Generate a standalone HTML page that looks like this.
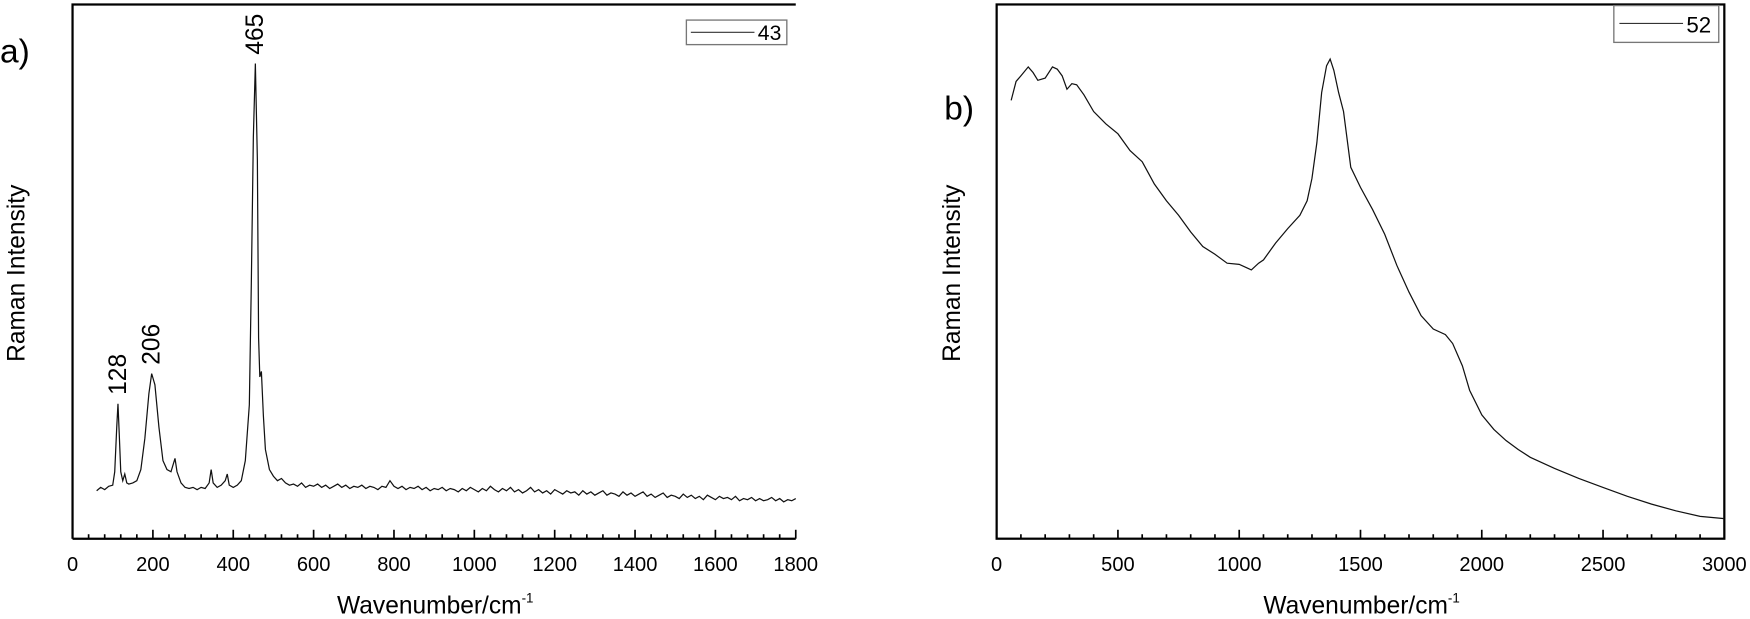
<!DOCTYPE html>
<html><head><meta charset="utf-8"><style>
html,body{margin:0;background:#fff;overflow:hidden;width:1750px;height:619px;}
svg{display:block;font-family:"Liberation Sans",sans-serif;}
</style></head><body>
<svg id="chart" width="1750" height="619" viewBox="0 0 1568 555" preserveAspectRatio="none"></svg>
<script>
// Panel a data (wavenumber, intensity a.u.)
const aWave = [60,70,80,90,100,105,110,113,116,120,125,130,135,140,150,160,170,180,190,197,205,215,225,235,245,250,255,260,270,280,290,300,310,320,330,340,345,350,360,370,380,385,390,400,410,420,430,440,445,450,455,460,463,466,470,475,480,490,500,510,520,530,540,
550,560,570,580,590,600,610,620,630,640,650,660,670,680,690,700,710,720,730,740,750,760,770,780,790,800,810,820,830,840,850,860,870,880,890,900,910,920,930,940,950,960,970,980,990,1000,1010,1020,1030,1040,1050,1060,1070,1080,1090,1100,1110,1120,1130,1140,1150,1160,1170,1180,1190,1200,1210,1220,1230,1240,1250,1260,1270,1280,1290,1300,1310,1320,1330,1340,1350,1360,1370,1380,1390,1400,1410,1420,1430,1440,1450,1460,1470,1480,1490,1500,1510,1520,1530,1540,1550,1560,1570,1580,1590,1600,1610,1620,1630,1640,1650,1660,1670,1680,1690,1700,1710,1720,1730,1740,1750,1760,1770,1780,1790,1800];
const aInt = [43,46,44,47,48,60,100,121,95,60,52,58,50,49,50,52,62,90,130,148,138,100,70,62,60,66,72,60,50,46,45,46,44,46,45,50,62,50,46,48,52,58,48,46,48,52,70,120,230,360,426,340,180,145,150,110,80,62,56,52,54,50,48,
49,47,50,46,48,47,49,46,48,45,47,49,46,48,45,47,46,48,45,47,46,44,47,46,52,47,45,47,44,46,45,47,44,46,43,45,44,46,43,45,44,42,45,43,46,44,42,45,43,47,44,42,45,43,46,42,44,41,43,46,42,44,41,43,40,44,42,40,43,41,42,39,43,40,42,39,41,43,39,41,40,38,42,39,41,38,40,42,38,40,37,39,41,37,39,38,36,40,37,39,36,38,35,39,37,35,38,36,37,35,38,34,36,35,37,34,36,34,35,37,34,36,33,35,34,36];
const aTicks = [0,200,400,600,800,1000,1200,1400,1600,1800];
const aPeakLabels = ["128","206","465"];
const aPeakWave = [113,197,455];
const aPeakInt = [121,148,426];
// Panel b data
const bWave = [60,80,100,130,150,170,200,230,250,270,290,310,330,360,400,450,500,550,600,650,700,750,800,850,900,950,1000,1030,1050,1080,1100,1150,1200,1250,1280,1300,1320,1340,1360,1375,1390,1410,1430,1460,1500,1550,1600,1650,1700,1750,1800,1850,1880,1920,1950,2000,2050,2100,2150,2200,2300,2400,2500,2600,2700,2800,2900,3000];
const bInt = [393,410,415,423,418,411,413,423,421,415,403,408,407,398,383,372,363,348,338,318,303,290,275,262,255,247,246,243,241,247,250,265,278,290,303,323,355,400,424,430,420,400,383,333,315,295,273,245,221,200,188,183,175,155,133,111,98,88,80,73,63,54,46,38,31,25,20,18];
const bTicks = [0,500,1000,1500,2000,2500,3000];

const svg = document.getElementById('chart');
const NS = 'http://www.w3.org/2000/svg';
function mk(tag, attrs, parent){const e=document.createElementNS(NS,tag);for(const k in attrs)e.setAttribute(k,attrs[k]);(parent||svg).appendChild(e);return e;}

const yTop=4, yBottom=483;
const ya = v => yBottom - v;
const xa = w => 65 + w*0.36;
const xb = w => 893 + w*(652/3000);

// ---- Panel a ----
const ga = mk('g',{});


let sp = mk('path',{d:`M65,${yBottom} L65,${yTop} L713,${yTop}`,fill:'none',stroke:'#000','stroke-width':2},ga);


sp = mk('line',{x1:65,y1:yBottom,x2:713,y2:yBottom,stroke:'#000','stroke-width':2},ga);


for(let w=0;w<=1800;w+=40){const mj=w%200===0;const tk=mk('line',{x1:xa(w),x2:xa(w),y1:yBottom,y2:yBottom-(mj?8:4),stroke:'#000','stroke-width':1.5},ga);

}
aTicks.forEach(w=>{const tt=mk('text',{x:xa(w),y:512,'text-anchor':'middle','font-size':18},ga);tt.textContent=w;

});
let d=aWave.map((w,i)=>(i?'L':'M')+xa(w).toFixed(1)+','+ya(aInt[i]).toFixed(1)).join('');
let ln=mk('path',{d,fill:'none',stroke:'#111','stroke-width':1.1},ga);


aPeakLabels.forEach((s,i)=>{const x=xa(aPeakWave[i])+7,y=ya(aPeakInt[i])-8;const tt=mk('text',{x,y,'font-size':22,transform:`rotate(-90 ${x} ${y})`},ga);tt.textContent=s;

});
let lg=mk('g',{},ga);


mk('rect',{x:615,y:18,width:90,height:22,fill:'#fff',stroke:'#777','stroke-width':1.2},lg);
mk('line',{x1:619,y1:29,x2:676,y2:29,stroke:'#333','stroke-width':1},lg);
let lt=mk('text',{x:679,y:36,'font-size':19},lg); lt.textContent='43';


let t=mk('text',{x:0,y:56,'font-size':30},ga); t.textContent='a)';


t=mk('text',{x:22,y:245,'font-size':22,'text-anchor':'middle',transform:'rotate(-90 22 245)'},ga); t.textContent='Raman Intensity';


t=mk('text',{x:390,y:550,'font-size':22,'text-anchor':'middle'},ga); t.innerHTML='Wavenumber/cm<tspan dy="-10" font-size="12">-1</tspan>';



// ---- Panel b ----
const gb = mk('g',{});


sp = mk('rect',{x:893,y:yTop,width:652,height:yBottom-yTop,fill:'none',stroke:'#000','stroke-width':2},gb);


for(let w=0;w<=3000;w+=100){const mj=w%500===0;const tk=mk('line',{x1:xb(w),x2:xb(w),y1:yBottom,y2:yBottom-(mj?8:4),stroke:'#000','stroke-width':1.5},gb);

}
bTicks.forEach(w=>{const tt=mk('text',{x:xb(w),y:512,'text-anchor':'middle','font-size':18},gb);tt.textContent=w;

});
d=bWave.map((w,i)=>(i?'L':'M')+xb(w).toFixed(1)+','+ya(bInt[i]).toFixed(1)).join('');
ln=mk('path',{d,fill:'none',stroke:'#111','stroke-width':1.1},gb);


lg=mk('g',{},gb);


mk('rect',{x:1446,y:5,width:94,height:33,fill:'#fff',stroke:'#777','stroke-width':1.2},lg);
mk('line',{x1:1451,y1:21,x2:1508,y2:21,stroke:'#333','stroke-width':1},lg);
lt=mk('text',{x:1511,y:29,'font-size':20},lg); lt.textContent='52';


t=mk('text',{x:846,y:107,'font-size':30},gb); t.textContent='b)';


t=mk('text',{x:860,y:245,'font-size':22,'text-anchor':'middle',transform:'rotate(-90 860 245)'},gb); t.textContent='Raman Intensity';


t=mk('text',{x:1220,y:550,'font-size':22,'text-anchor':'middle'},gb); t.innerHTML='Wavenumber/cm<tspan dy="-10" font-size="12">-1</tspan>';


</script>
</body></html>
